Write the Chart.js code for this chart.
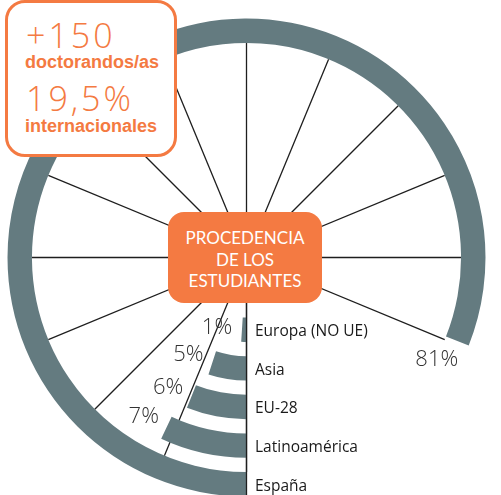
<!DOCTYPE html>
<html>
<head>
<meta charset="utf-8">
<script src="https://cdn.jsdelivr.net/npm/chart.js@4.4.1/dist/chart.umd.min.js"></script>
<style>
  html, body { margin: 0; padding: 0; overflow: hidden; background: #fff; width: 501px; height: 495px; }
  #wrap { position: relative; width: 501px; height: 497px; }
  #chart { position: absolute; left: 0; top: 0; }
  .stats { position: absolute; left: 5px; top: 0px; width: 172px; height: 157px; box-sizing: border-box;
           border: 3.5px solid #f47a42; border-radius: 20px; background: #fff; }
  .big { position: absolute; left: 26px; font-family: "Open Sans", "Lato", sans-serif; font-weight: 300;
         font-size: 34px; line-height: 34px; letter-spacing: 3px; color: #f47a42; white-space: nowrap; }
  .bold { position: absolute; left: 25px; font-family: "Liberation Sans", Arial, sans-serif; font-weight: 700;
          font-size: 18px; line-height: 18px; color: #f47a42; white-space: nowrap; }
  .center { position: absolute; left: 168px; top: 212px; width: 154px; height: 91px; box-sizing: border-box;
            padding-top: 4px; background: #f47a42; border-radius: 16px; color: #fff;
            display: flex; flex-direction: column; justify-content: center; align-items: center;
            font-family: "Lato", "Liberation Sans", sans-serif; font-size: 17px; line-height: 21.5px; }
</style>
</head>
<body>
<div id="wrap">
  <canvas id="chart" width="501" height="497"></canvas>
  <div class="stats"></div>
  <div class="big" id="h1" style="top:17.8px"></div>
  <div class="bold" id="h2" style="top:52.8px"></div>
  <div class="big" id="h3" style="top:80.8px"></div>
  <div class="bold" id="h4" style="top:116.8px"></div>
  <div class="center" id="ctitle"></div>
</div>
<script>
// ---- data ----
const categories = ['España', 'Latinoamérica', 'EU-28', 'Asia', 'Europa (NO UE)'];
const shares = [81, 7, 6, 5, 1];
const valueLabels = ['81%', '7%', '6%', '5%', '1%'];
const headline = ['+150', 'doctorandos/as', '19,5%', 'internacionales'];
const centerTitle = ['PROCEDENCIA', 'DE LOS', 'ESTUDIANTES'];
const SPOKES = 16;

// ---- styles ----
const RING_COLOR = '#647b80';
const RING_W = 24.5;
const GAP_W = 14.2;

['h1', 'h2', 'h3', 'h4'].forEach((id, i) => { document.getElementById(id).textContent = headline[i]; });
const ct = document.getElementById('ctitle');
centerTitle.forEach(t => { const d = document.createElement('div'); d.textContent = t; ct.appendChild(d); });

const datasets = [];
const seriesIdx = [];
shares.forEach((v, i) => {
  if (i > 0) datasets.push({ label: 'gap' + i, data: [], weight: GAP_W });
  seriesIdx.push(datasets.length);
  datasets.push({
    label: categories[i],
    data: [v, 100 - v],
    backgroundColor: [RING_COLOR, 'rgba(0,0,0,0)'],
    borderWidth: 0, hoverBorderWidth: 0, offset: 0, hoverOffset: 0,
    weight: RING_W
  });
});

const radialDecor = {
  id: 'radialDecor',
  beforeDatasetsDraw(chart) {
    const ctx = chart.ctx;
    const arc = chart.getDatasetMeta(seriesIdx[0]).data[0];
    const { x, y, innerRadius, startAngle, endAngle } = arc;
    const span = endAngle - startAngle;
    ctx.save();
    ctx.strokeStyle = '#1e1e1e';
    ctx.lineWidth = 1.3;
    for (let k = 0; k < SPOKES; k++) {
      const a = -Math.PI / 2 + k * 2 * Math.PI / SPOKES;
      let rel = ((a - startAngle) % (2 * Math.PI) + 2 * Math.PI) % (2 * Math.PI);
      if (rel > 2 * Math.PI - 1e-6) rel = 0;
      if (rel <= span + Math.PI / SPOKES) {
        ctx.beginPath();
        ctx.moveTo(x, y);
        ctx.lineTo(x + innerRadius * Math.cos(a), y + innerRadius * Math.sin(a));
        ctx.stroke();
      }
    }
    ctx.restore();
  },
  afterDatasetsDraw(chart) {
    const ctx = chart.ctx;
    const outer = chart.getDatasetMeta(seriesIdx[0]).data[0];
    const cx = outer.x, cy = outer.y, s = outer.startAngle;
    const maxLabelR = outer.innerRadius;
    ctx.save();
    ctx.strokeStyle = '#1e1e1e';
    ctx.lineWidth = 1.3;
    ctx.beginPath();
    ctx.moveTo(cx, cy);
    ctx.lineTo(cx + outer.outerRadius * Math.cos(s), cy + outer.outerRadius * Math.sin(s));
    ctx.stroke();

    seriesIdx.forEach((di, i) => {
      const arc = chart.getDatasetMeta(di).data[0];
      const mid = (arc.innerRadius + arc.outerRadius) / 2;
      // category label at the start of the ring
      ctx.font = '15.5px "Open Sans", "Liberation Sans", sans-serif';
      ctx.fillStyle = '#1a1a1a';
      ctx.textAlign = 'left';
      ctx.textBaseline = 'middle';
      ctx.fillText(categories[i], cx + mid * Math.cos(arc.startAngle) + 8.5, cy + mid * Math.sin(arc.startAngle) + 2);
      // value label just past the end of the ring (kept inside the outer ring)
      const e = arc.endAngle;
      const r = Math.min(mid, maxLabelR);
      const ex = cx + r * Math.cos(e), ey = cy + r * Math.sin(e);
      const tx = -Math.sin(e), ty = Math.cos(e);
      ctx.font = '300 22px "Open Sans", Lato, sans-serif';
      ctx.fillStyle = '#333333';
      ctx.textAlign = 'center';
      ctx.fillText(valueLabels[i], ex + tx * 25, ey + ty * 25);
    });
    ctx.restore();
  }
};

new Chart(document.getElementById('chart'), {
  type: 'doughnut',
  data: { labels: ['share', 'rest'], datasets },
  options: {
    responsive: false,
    animation: false,
    events: [],
    cutout: 60,
    rotation: 180,
    layout: { padding: { left: 7.5, right: 15.5, top: 18.5, bottom: 0.5 } },
    plugins: { legend: { display: false }, tooltip: { enabled: false } }
  },
  plugins: [radialDecor]
});
</script>
</body>
</html>
